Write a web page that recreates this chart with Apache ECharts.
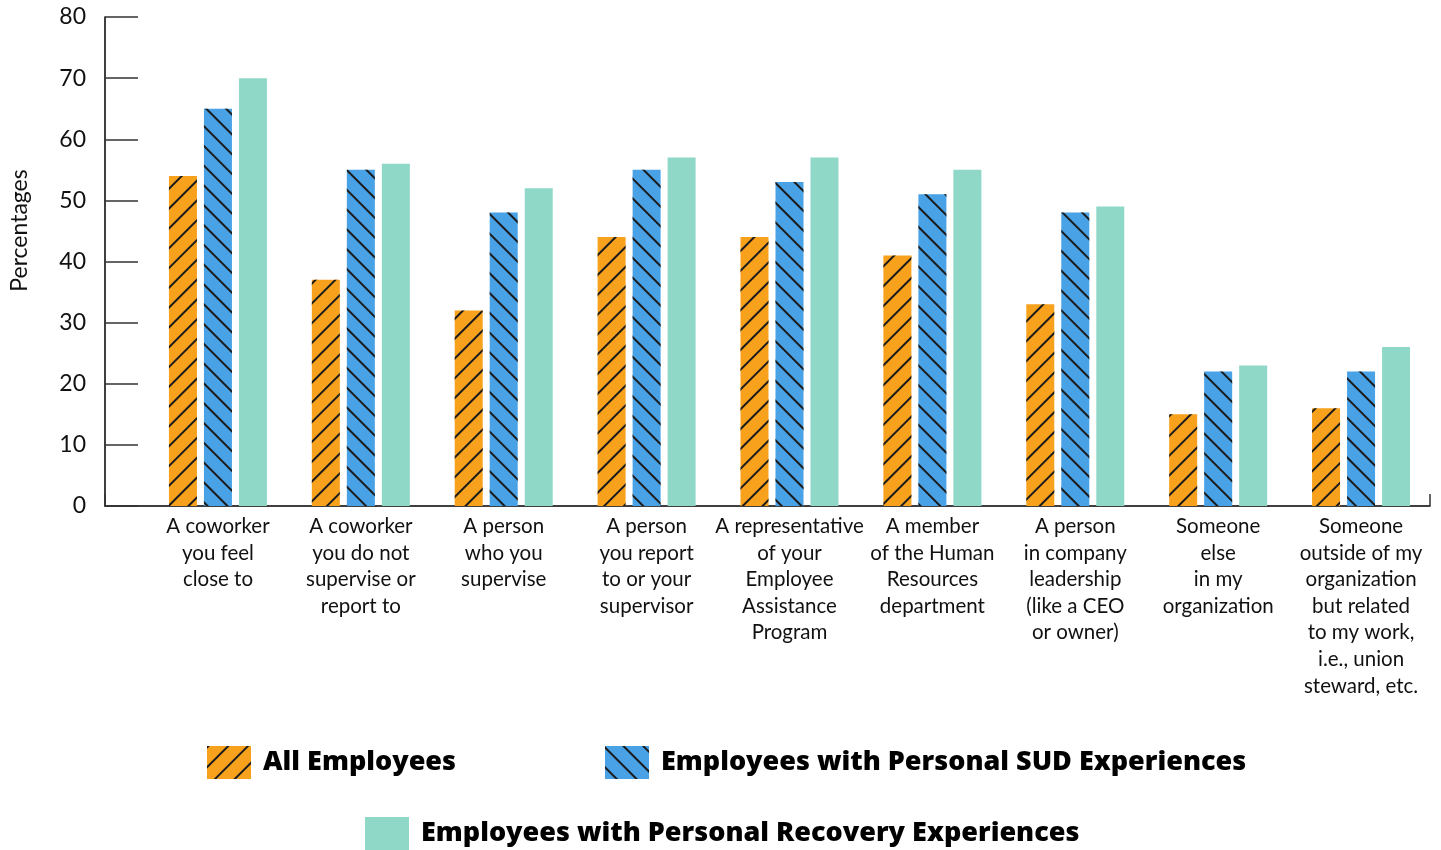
<!DOCTYPE html>
<html>
<head>
<meta charset="utf-8">
<script src="https://cdn.jsdelivr.net/npm/echarts@6/dist/echarts.min.js"></script>
<style>
  html, body { margin: 0; padding: 0; background: #fff; }
  #chart { width: 1441px; height: 850px; }
</style>
</head>
<body>
<div id="chart"></div>
<script>
// Who employees would talk to (percentages)
const categories = [
  'A coworker\nyou feel\nclose to',
  'A coworker\nyou do not\nsupervise or\nreport to',
  'A person\nwho you\nsupervise',
  'A person\nyou report\nto or your\nsupervisor',
  'A representative\nof your\nEmployee\nAssistance\nProgram',
  'A member\nof the Human\nResources\ndepartment',
  'A person\nin company\nleadership\n(like a CEO\nor owner)',
  'Someone\nelse\nin my\norganization',
  'Someone\noutside of my\norganization\nbut related\nto my work,\ni.e., union\nsteward, etc.'
];
const seriesNames = [
  'All Employees',
  'Employees with Personal SUD Experiences',
  'Employees with Personal Recovery Experiences'
];
const allEmployees = [54, 37, 32, 44, 44, 41, 33, 15, 16];
const sudEmployees = [65, 55, 48, 55, 53, 51, 48, 22, 22];
const recoveryEmployees = [70, 56, 52, 57, 57, 55, 49, 23, 26];
const yTicks = { min: 0, max: 80, interval: 10 };

const FONT = 'Lato, "Noto Sans", sans-serif';
const LEGEND_FONT = '"Open Sans", "Noto Sans", sans-serif';
const hatch = (rotation) => ({
  symbol: 'rect',
  symbolSize: 1,
  dashArrayX: [1, 0],
  dashArrayY: [1.4, 11.5],
  rotation: rotation,
  color: '#1b1b1b'
});

const chart = echarts.init(document.getElementById('chart'), null, { renderer: 'canvas' });

const legendBase = {
  icon: 'rect',
  itemWidth: 44,
  itemHeight: 33,
  padding: 0,
  selectedMode: false,
  textStyle: {
    fontFamily: LEGEND_FONT,
    fontSize: 27,
    fontWeight: 800,
    color: '#000',
    padding: [6, 0, 0, 7]
  }
};

chart.setOption({
  backgroundColor: '#ffffff',
  animation: false,
  grid: [
    // frame grid: draws the y axis and the full-length baseline
    { left: 103, right: 11, top: 17, bottom: 344 },
    // bar grid
    { left: 146.5, right: 8.5, top: 17, bottom: 344 }
  ],
  legend: [
    Object.assign({ data: [seriesNames[0]], left: 207, top: 746 }, legendBase),
    Object.assign({ data: [seriesNames[1]], left: 605, top: 746 }, legendBase),
    Object.assign({ data: [seriesNames[2]], left: 365, top: 817 }, legendBase)
  ],
  xAxis: [
    {
      gridIndex: 0,
      type: 'value',
      min: 0,
      max: 1,
      interval: 1,
      axisLine: { show: true, lineStyle: { color: '#000', width: 1.5 } },
      axisTick: { show: true, inside: true, length: 12, lineStyle: { color: '#333', width: 1.5 } },
      axisLabel: { show: false },
      splitLine: { show: false }
    },
    {
      gridIndex: 1,
      type: 'category',
      data: categories,
      axisLine: { show: false },
      axisTick: { show: false },
      axisLabel: {
        interval: 0,
        margin: 7,
        fontFamily: FONT,
        fontSize: 20.5,
        lineHeight: 26.6,
        color: '#111',
        verticalAlign: 'top'
      }
    }
  ],
  yAxis: [
    {
      gridIndex: 0,
      type: 'value',
      min: yTicks.min,
      max: yTicks.max,
      interval: yTicks.interval,
      name: 'Percentages',
      nameLocation: 'middle',
      nameRotate: 90,
      nameGap: 74,
      nameTextStyle: {
        fontFamily: FONT,
        fontSize: 23,
        color: '#111',
        padding: [0, 0, 0, 62]
      },
      axisLine: { show: true, lineStyle: { color: '#000', width: 1.5 } },
      axisTick: { show: true, inside: true, length: 33, lineStyle: { color: '#333', width: 1.5 } },
      axisLabel: { margin: 19, fontFamily: FONT, fontSize: 23, color: '#111', padding: [5, 0, 0, 0] },
      splitLine: { show: false }
    },
    {
      gridIndex: 1,
      type: 'value',
      min: yTicks.min,
      max: yTicks.max,
      interval: yTicks.interval,
      show: false,
      splitLine: { show: false }
    }
  ],
  series: [
    {
      name: seriesNames[0],
      type: 'bar',
      xAxisIndex: 1,
      yAxisIndex: 1,
      data: allEmployees,
      barWidth: 28,
      barGap: '25%',
      itemStyle: { color: '#F8A11D', decal: hatch(-Math.PI / 4) }
    },
    {
      name: seriesNames[1],
      type: 'bar',
      xAxisIndex: 1,
      yAxisIndex: 1,
      data: sudEmployees,
      barWidth: 28,
      barGap: '25%',
      itemStyle: { color: '#49A1E6', decal: hatch(Math.PI / 4) }
    },
    {
      name: seriesNames[2],
      type: 'bar',
      xAxisIndex: 1,
      yAxisIndex: 1,
      data: recoveryEmployees,
      barWidth: 28,
      barGap: '25%',
      itemStyle: { color: '#8FD8C8' }
    }
  ]
});
</script>
</body>
</html>
